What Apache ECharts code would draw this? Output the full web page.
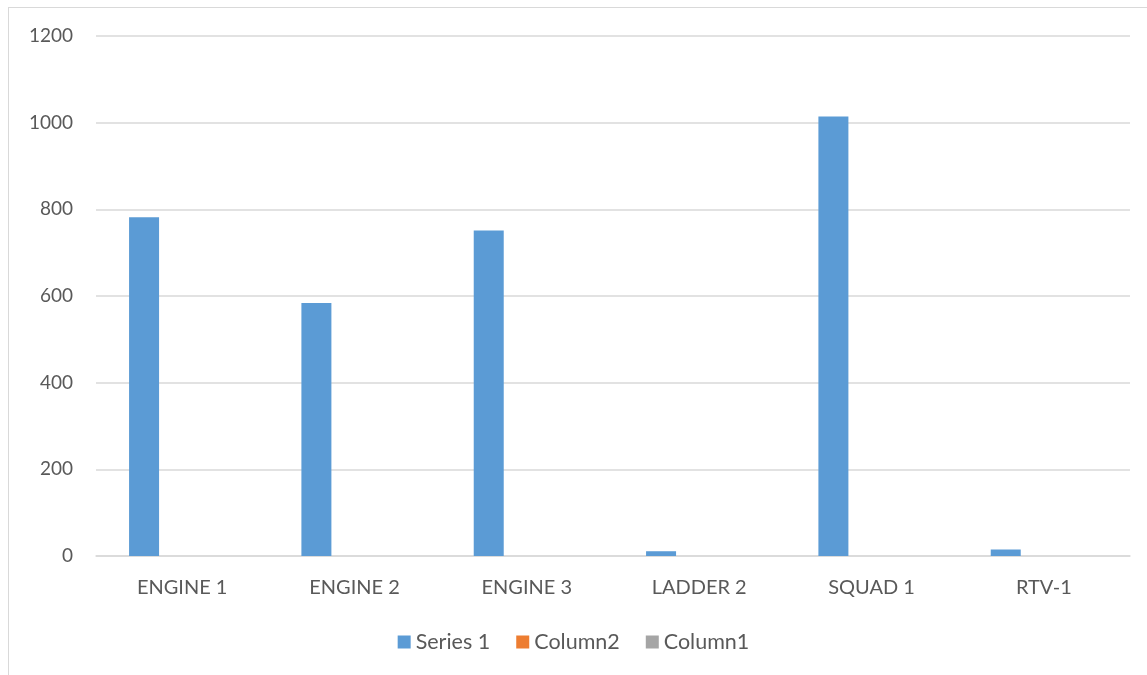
<!DOCTYPE html>
<html>
<head>
<meta charset="utf-8">
<script src="https://cdn.jsdelivr.net/npm/echarts@6/dist/echarts.min.js"></script>
<style>
html,body{margin:0;padding:0;background:#fff;}
#frame{position:absolute;left:8px;top:7px;width:1160px;height:700px;border:1.5px solid #d9d9d9;box-sizing:border-box;}
#chart{position:absolute;left:0;top:0;width:1147px;height:675px;}
</style>
</head>
<body>
<div id="frame"></div>
<div id="chart"></div>
<script>
const categories = ['ENGINE 1', 'ENGINE 2', 'ENGINE 3', 'LADDER 2', 'SQUAD 1', 'RTV-1'];
const series1 = [782, 584, 751, 11, 1014, 15];
const column2 = [0, 0, 0, 0, 0, 0];
const column1 = [0, 0, 0, 0, 0, 0];
const yTicks = { min: 0, max: 1200, interval: 200 };

const font = 'Lato, "Open Sans", sans-serif';
const chart = echarts.init(document.getElementById('chart'));
chart.setOption({
  animation: false,
  grid: { left: 96, right: 17, top: 36, bottom: 119, containLabel: false },
  legend: {
    bottom: 17,
    left: 'center',
    itemWidth: 13,
    itemHeight: 13,
    itemGap: 26,
    icon: 'rect',
    textStyle: { color: '#595959', fontSize: 21.5, fontFamily: font },
    data: ['Series 1', 'Column2', 'Column1']
  },
  xAxis: {
    type: 'category',
    data: categories,
    axisLine: { lineStyle: { color: '#d9d9d9', width: 1.5 } },
    axisTick: { show: false },
    axisLabel: { color: '#595959', fontSize: 20, fontFamily: font, margin: 22 }
  },
  yAxis: {
    type: 'value',
    min: yTicks.min,
    max: yTicks.max,
    interval: yTicks.interval,
    axisLine: { show: false },
    axisTick: { show: false },
    splitLine: { lineStyle: { color: '#d9d9d9', width: 1.5 } },
    axisLabel: { color: '#595959', fontSize: 19, fontFamily: font, margin: 23, formatter: v => String(v) }
  },
  series: [
    { name: 'Series 1', type: 'bar', data: series1, barWidth: 30, barGap: '27%', itemStyle: { color: '#5B9BD5' } },
    { name: 'Column2', type: 'bar', data: column2, barWidth: 30, barGap: '27%', itemStyle: { color: '#ED7D31' } },
    { name: 'Column1', type: 'bar', data: column1, barWidth: 30, barGap: '27%', itemStyle: { color: '#A5A5A5' } }
  ]
});
</script>
</body>
</html>
